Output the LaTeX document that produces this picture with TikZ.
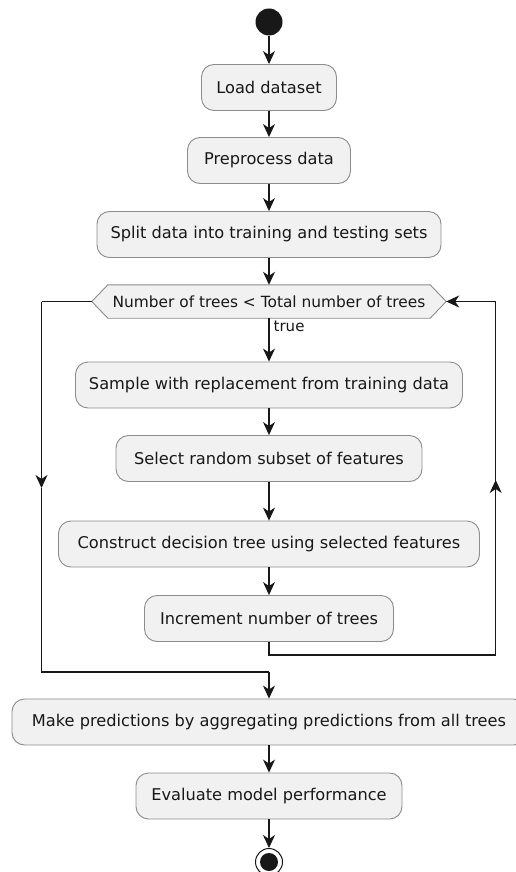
\documentclass[tikz,border=0pt]{standalone}
\usepackage{fontspec}
\setmainfont{DejaVu Sans}
\usetikzlibrary{arrows.meta}
\definecolor{ink}{HTML}{181818}
\definecolor{boxfill}{HTML}{F1F1F1}
\definecolor{boxline}{HTML}{8C8C8C}
\tikzset{
  act/.style={draw=boxline, line width=0.9pt, fill=boxfill, rounded corners=12.5pt,
    inner sep=0pt, minimum height=46pt, font=\fontsize{16.2}{19}\selectfont, text=ink},
  flow/.style={draw=ink, line width=1.1pt, -{Stealth[length=13pt,width=12pt,inset=4pt]}},
  plain/.style={draw=ink, line width=1.1pt},
}
\begin{document}
\begin{tikzpicture}[x=1pt,y=1pt]
\useasboundingbox (0,0) rectangle (515,-872);
\fill[white] (0,0) rectangle (515,-872);

\node[circle, fill=ink, minimum size=27pt, inner sep=0pt] (start) at (269,-22) {};
\node[act, minimum width=135pt] (load) at (269,-87.5) {Load dataset};
\node[act, minimum width=163pt] (prep) at (269,-160.5) {Preprocess data};
\node[act, minimum width=344pt] (split) at (269,-234.5) {Split data into training and testing sets};

% hexagon decision
\node[inner sep=0pt, minimum width=322pt, minimum height=33pt] (hex) at (269,-301.5) {};
\coordinate (hexL) at ([xshift=-16pt]hex.west);
\coordinate (hexR) at ([xshift=16pt]hex.east);
\filldraw[draw=boxline, line width=0.9pt, fill=boxfill] (hex.north west) -- (hex.north east) -- (hexR) -- (hex.south east) -- (hex.south west) -- (hexL) -- cycle;
\node[inner sep=0pt, font=\fontsize{15.4}{18}\selectfont, text=ink] (hextext) at (hex) {Number of trees < Total number of trees};

\node[act, minimum width=387pt] (sample) at (269,-385) {Sample with replacement from training data};
\node[act, minimum width=306pt] (select) at (269,-458.5) {Select random subset of features};
\node[act, minimum width=421pt] (construct) at (269,-544) {Construct decision tree using selected features};
\node[act, minimum width=249pt] (incr) at (269,-618.5) {Increment number of trees};
\node[act, minimum width=514pt] (make) at (269,-722) {Make predictions by aggregating predictions from all trees};
\node[act, minimum width=266pt] (eval) at (269,-796) {Evaluate model performance};

% end node
\node[circle, draw=ink, line width=1pt, fill=white, minimum size=27pt, inner sep=0pt] (stop) at (269,-862) {};
\fill[ink] (stop.center) circle (9pt);

% connectors
\draw[flow] (start) -- (load);
\draw[flow] (load) -- (prep);
\draw[flow] (prep) -- (split);
\draw[flow] (split) -- (hex);
\draw[flow] (hex) -- (sample);
\node[anchor=west, inner sep=0pt, font=\fontsize{15}{18}\selectfont, text=ink] (truelbl) at (273.5,-326.5) {true};
\draw[flow] (sample) -- (select);
\draw[flow] (select) -- (construct);
\draw[flow] (construct) -- (incr);

% loop back (right)
\coordinate (r1) at (269,-655);
\coordinate (r2) at (495.7,-655);
\coordinate (rarr) at (495.7,-480);
\coordinate (r3) at (495.7,-301.5);
\draw[plain] (incr.south) -- (r1) -- (r2) -- (rarr);
\draw[flow] (r2) -- (rarr);
\draw[plain] (rarr) -- (r3);
\draw[flow] (r3) -- (hexR);

% exit (left)
\coordinate (l1) at (41.5,-301.5);
\coordinate (larr) at (41.5,-488);
\coordinate (l2) at (41.5,-672);
\coordinate (l3) at (269,-672);
\draw[plain] (hexL) -- (l1);
\draw[flow] (l1) -- (larr);
\draw[plain] (larr) -- (l2) -- (l3);
\draw[flow] (l3) -- (make.north);

\draw[flow] (make) -- (eval);
\draw[flow] (eval) -- (stop);
\end{tikzpicture}
\end{document}
